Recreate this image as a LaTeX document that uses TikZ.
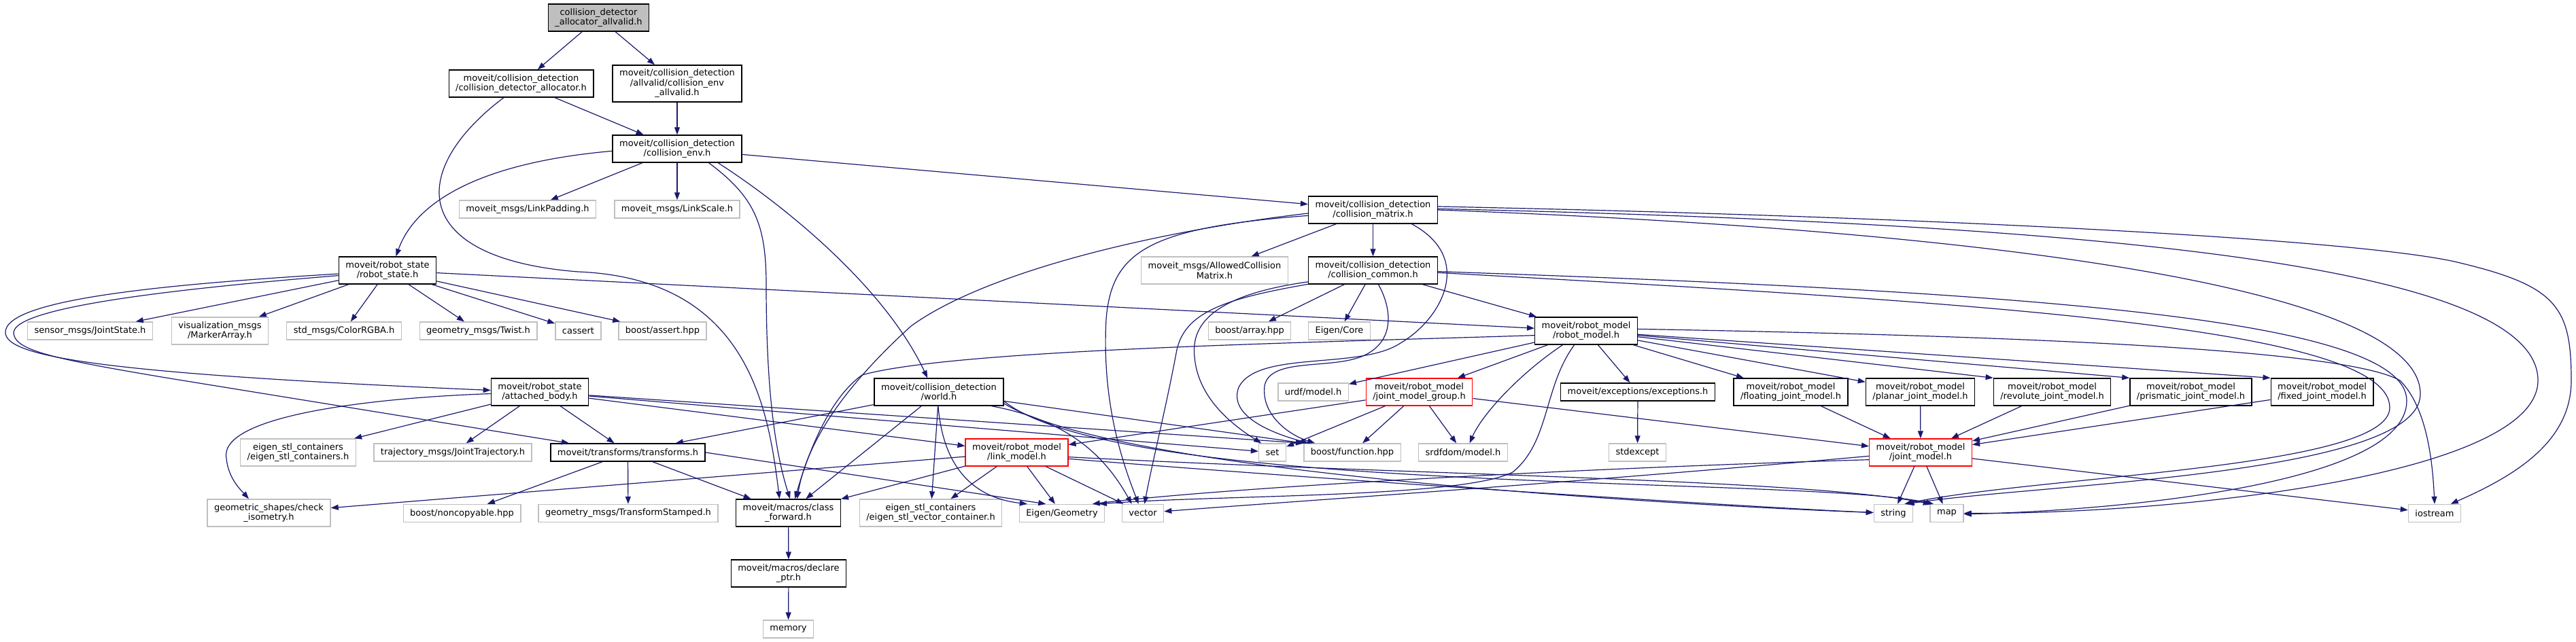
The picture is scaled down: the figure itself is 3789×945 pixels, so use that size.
\documentclass[tikz,border=0pt]{standalone}
\usepackage{fontspec}
\setmainfont{DejaVu Sans}
\usepackage{tikz}
\usetikzlibrary{arrows.meta}
\definecolor{edgeblue}{HTML}{191970}
\definecolor{extgray}{HTML}{BFBFBF}
\tikzset{
  box/.style={rectangle,draw=black,line width=0.7pt,fill=white,align=center,inner xsep=5pt,inner ysep=2pt,minimum height=13pt,font=\fontsize{6.5}{7.2}\selectfont},
  extbox/.style={box,draw=extgray},
  truncbox/.style={box,draw=red},
  rootbox/.style={box,fill=extgray},
  tall/.style={minimum height=20pt},
  line/.style={draw=edgeblue,line width=0.6pt,-{Triangle[length=5.5pt,width=4pt]}}
}

\begin{document}
\begin{tikzpicture}[x=0.5pt,y=-0.5pt]
\useasboundingbox (0,0) rectangle (3789,945);

\node[rootbox,tall] (root) at (880.5,26) {collision\_detector\\\_allocator\_allvalid.h};
\node[box,tall] (cda) at (766.5,123) {moveit/collision\_detection\\/collision\_detector\_allocator.h};
\node[box,minimum height=27pt] (cea) at (996,123) {moveit/collision\_detection\\/allvalid/collision\_env\\\_allvalid.h};
\node[box,tall] (ce) at (996,219) {moveit/collision\_detection\\/collision\_env.h};
\node[extbox] (lpad) at (776,308) {moveit\_msgs/LinkPadding.h};
\node[extbox] (lscale) at (996,308) {moveit\_msgs/LinkScale.h};
\node[box,tall] (cm) at (2019.5,309) {moveit/collision\_detection\\/collision\_matrix.h};
\node[extbox,tall] (acm) at (1786.5,398) {moveit\_msgs/AllowedCollision\\Matrix.h};
\node[box,tall] (cc) at (2019.5,398) {moveit/collision\_detection\\/collision\_common.h};
\node[box,tall] (rs) at (570,398) {moveit/robot\_state\\/robot\_state.h};
\node[extbox] (jstate) at (132.5,487) {sensor\_msgs/JointState.h};
\node[extbox,tall] (marker) at (323.5,487) {visualization\_msgs\\/MarkerArray.h};
\node[extbox] (rgba) at (506,487) {std\_msgs/ColorRGBA.h};
\node[extbox] (twist) at (703.5,487) {geometry\_msgs/Twist.h};
\node[extbox] (cassert) at (850.5,487) {cassert};
\node[extbox] (bassert) at (974.5,487) {boost/assert.hpp};
\node[extbox] (barray) at (1838,487) {boost/array.hpp};
\node[extbox] (ecore) at (1970,487) {Eigen/Core};
\node[box,tall] (rm) at (2333,487) {moveit/robot\_model\\/robot\_model.h};
\node[box,tall] (ab) at (794,577) {moveit/robot\_state\\/attached\_body.h};
\node[box,tall] (world) at (1381,577) {moveit/collision\_detection\\/world.h};
\node[extbox] (urdf) at (1931.5,577) {urdf/model.h};
\node[truncbox,tall] (jmg) at (2087.5,577) {moveit/robot\_model\\/joint\_model\_group.h};
\node[box] (exc) at (2409,577) {moveit/exceptions/exceptions.h};
\node[box,tall] (floating) at (2634,577) {moveit/robot\_model\\/floating\_joint\_model.h};
\node[box,tall] (planar) at (2824.5,577) {moveit/robot\_model\\/planar\_joint\_model.h};
\node[box,tall] (revolute) at (3018.5,577) {moveit/robot\_model\\/revolute\_joint\_model.h};
\node[box,tall] (prismatic) at (3222.5,577) {moveit/robot\_model\\/prismatic\_joint\_model.h};
\node[box,tall] (fixed) at (3415.5,577) {moveit/robot\_model\\/fixed\_joint\_model.h};
\node[extbox,tall] (esc) at (438.5,666) {eigen\_stl\_containers\\/eigen\_stl\_containers.h};
\node[extbox] (traj) at (666,666) {trajectory\_msgs/JointTrajectory.h};
\node[box] (tf) at (923.5,666) {moveit/transforms/transforms.h};
\node[truncbox,tall] (lm) at (1495.5,666) {moveit/robot\_model\\/link\_model.h};
\node[extbox] (set) at (1871.5,666) {set};
\node[extbox] (bfunc) at (1989,666) {boost/function.hpp};
\node[extbox] (srdf) at (2152,666) {srdfdom/model.h};
\node[extbox] (stdexc) at (2408.5,666) {stdexcept};
\node[truncbox,tall] (jm) at (2825,666) {moveit/robot\_model\\/joint\_model.h};
\node[extbox,tall] (iso) at (395.5,755) {geometric\_shapes/check\\\_isometry.h};
\node[extbox] (noncopy) at (679.5,755.5) {boost/noncopyable.hpp};
\node[extbox] (tfstamp) at (924,755.5) {geometry\_msgs/TransformStamped.h};
\node[box,tall] (cf) at (1159.5,755) {moveit/macros/class\\\_forward.h};
\node[extbox,tall] (esvc) at (1369,755) {eigen\_stl\_containers\\/eigen\_stl\_vector\_container.h};
\node[extbox] (egeo) at (1562,755.5) {Eigen/Geometry};
\node[extbox] (vector) at (1681,755.5) {vector};
\node[extbox] (string) at (2785,755.5) {string};
\node[extbox] (map) at (2863.5,755.5) {map};
\node[extbox] (iostream) at (3581,755.5) {iostream};
\node[box,tall] (dptr) at (1160,844) {moveit/macros/declare\\\_ptr.h};
\node[extbox] (memory) at (1159.5,926) {memory};

\draw[line] (root) -- (cda);
\draw[line] (root) -- (cea);
\draw[line] (cda) -- (ce);
\draw[line] (cea) -- (ce);
\draw[line] (cda.-141) .. controls (600,250) and (600,380) .. (850,400) .. controls (1100,410) and (1130,600) .. (cf.122);

\draw[line] (ce.-178) .. controls (700,240) and (610,300) .. (rs.59);
\draw[line] (ce) -- (lpad);
\draw[line] (ce) -- (lscale);
\draw[line] (ce) -- (cm);
\draw[line] (ce.-24) .. controls (1110,290) and (1127,330) .. (1127,420) .. controls (1127,600) and (1145,680) .. (cf.83);
\draw[line] (ce.-19) .. controls (1150,300) and (1300,420) .. (world.129);

\draw[line] (cm) -- (cc);
\draw[line] (cm) -- (acm);
\draw[line] (cm.-177) .. controls (1700,340) and (1450,400) .. (1340,480) .. controls (1230,580) and (1185,660) .. (cf.58);
\draw[line] (cm.-175) .. controls (1690,335) and (1635,370) .. (1627,470) .. controls (1620,600) and (1655,690) .. (vector.115);
\draw[line] (cm.-20) .. controls (2170,380) and (2120,470) .. (2060,505) .. controls (2000,545) and (1850,515) .. (1822,570) .. controls (1805,615) and (1880,640) .. (bfunc.168);
\draw[line] (cm.3) .. controls (2800,318) and (3450,350) .. (3610,385) .. controls (3760,420) and (3782,450) .. (3782,560) .. controls (3782,650) and (3700,700) .. (iostream.30);
\draw[line] (cm.1) .. controls (3000,328) and (3733,380) .. (3733,560) .. controls (3733,700) and (3200,757) .. (map.east);
\draw[line] (cm.0) .. controls (2900,338) and (3560,420) .. (3560,580) .. controls (3560,700) and (3000,712) .. (string.35);

\draw[line] (cc) -- (barray);
\draw[line] (cc) -- (ecore);
\draw[line] (cc) -- (rm);
\draw[line] (cc.-69) .. controls (2045,450) and (2055,500) .. (2007,523) .. controls (1960,545) and (1868,525) .. (1860,568) .. controls (1855,610) and (1895,640) .. (bfunc.166);
\draw[line] (cc.-168) .. controls (1800,440) and (1740,460) .. (1730,520) .. controls (1715,600) and (1695,680) .. (vector.80);
\draw[line] (cc.-170) .. controls (1780,435) and (1752,480) .. (1757,525) .. controls (1762,590) and (1820,630) .. (set.140);
\draw[line] (cc.-1) .. controls (3000,430) and (3540,470) .. (3540,590) .. controls (3540,715) and (3100,752) .. (map.-3);
\draw[line] (cc.-2) .. controls (2900,445) and (3515,480) .. (3515,600) .. controls (3515,690) and (3000,700) .. (string.40);

\draw[line] (rs) -- (jstate);
\draw[line] (rs) -- (marker);
\draw[line] (rs) -- (rgba);
\draw[line] (rs) -- (twist);
\draw[line] (rs) -- (cassert);
\draw[line] (rs) -- (bassert);
\draw[line] (rs) -- (rm);
\draw[line] (rs.-176) .. controls (250,418) and (5,440) .. (8,490) .. controls (10,525) and (150,550) .. (ab.178);
\draw[line] (rs.-174) .. controls (260,425) and (20,452) .. (20,490) .. controls (22,515) and (70,527) .. (250,557) -- (tf.171);

\draw[line] (rm.-175) .. controls (1900,505) and (1400,515) .. (1268,552) .. controls (1215,590) and (1185,680) .. (cf.65);
\draw[line] (rm) -- (urdf);
\draw[line] (rm) -- (jmg);
\draw[line] (rm.-149) .. controls (2235,550) and (2180,610) .. (srdf.55);
\draw[line] (rm.-130) .. controls (2270,570) and (2280,650) .. (2225,695) .. controls (2150,733) and (1800,728) .. (egeo.14);
\draw[line] (rm) -- (exc);
\draw[line] (rm) -- (floating);
\draw[line] (rm) -- (planar);
\draw[line] (rm) -- (revolute.north west);
\draw[line] (rm) -- (prismatic.north west);
\draw[line] (rm) -- (fixed.north west);
\draw[line] (rm.2) .. controls (3000,495) and (3450,515) .. (3530,560) .. controls (3570,600) and (3578,680) .. (iostream.north);

\draw[line] (ab) -- (esc);
\draw[line] (ab) -- (traj);
\draw[line] (ab) -- (tf);
\draw[line] (ab.-178) .. controls (560,585) and (320,610) .. (333,675) .. controls (336,705) and (355,722) .. (iso.145);
\draw[line] (ab) -- (lm);
\draw[line] (ab) -- (set);
\draw[line] (ab) -- (bfunc.north west);

\draw[line] (world) -- (tf);
\draw[line] (world) -- (cf);
\draw[line] (world) -- (esvc);
\draw[line] (world.-93) .. controls (1385,660) and (1410,730) .. (egeo.165);
\draw[line] (world.-15) .. controls (1580,620) and (1630,680) .. (vector.140);
\draw[line] (world) -- (bfunc.north west);
\draw[line] (world.-10) .. controls (1650,700) and (2500,745) .. (string.178);
\draw[line] (world.-8) .. controls (1650,730) and (2650,700) .. (map.145);

\draw[line] (jmg) -- (lm);
\draw[line] (jmg) -- (set);
\draw[line] (jmg) -- (bfunc);
\draw[line] (jmg) -- (srdf);
\draw[line] (jmg) -- (jm);

\draw[line] (exc) -- (stdexc);
\draw[line] (floating) -- (jm);
\draw[line] (planar) -- (jm);
\draw[line] (revolute) -- (jm);
\draw[line] (prismatic) -- (jm);
\draw[line] (fixed) -- (jm);

\draw[line] (tf) -- (noncopy);
\draw[line] (tf) -- (tfstamp);
\draw[line] (tf) -- (cf);
\draw[line] (tf.east) -- (egeo.150);

\draw[line] (lm) -- (cf);
\draw[line] (lm) -- (esvc);
\draw[line] (lm) -- (egeo);
\draw[line] (lm) -- (vector);
\draw[line] (lm) -- (iso);
\draw[line] (lm.-7) .. controls (2000,710) and (2600,748) .. (string.178);
\draw[line] (lm.-5) .. controls (2100,700) and (2650,705) .. (map.150);

\draw[line] (jm) -- (string);
\draw[line] (jm) -- (map);
\draw[line] (jm) -- (iostream);
\draw[line] (jm.-172) .. controls (2300,690) and (1800,718) .. (egeo.17);
\draw[line] (jm.-176) .. controls (2300,712) and (1900,738) .. (vector.5);

\draw[line] (cf) -- (dptr);
\draw[line] (dptr) -- (memory);
\end{tikzpicture}
\end{document}
